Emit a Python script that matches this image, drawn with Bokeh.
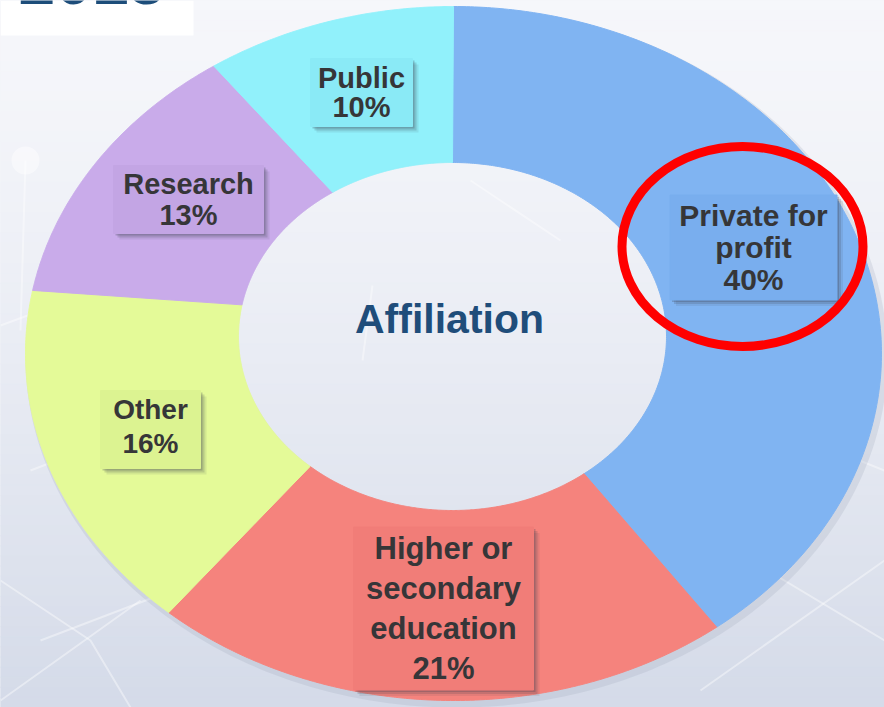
import numpy as np
from bokeh.plotting import figure
from bokeh.models import Range1d
from bokeh.core.properties import value
from bokeh.embed import file_html
from bokeh.resources import INLINE

# ---------------- data ----------------
categories = ["Private for profit", "Higher or secondary education", "Other", "Research", "Public"]
label_names = ["Private for\nprofit", "Higher or\nsecondary\neducation", "Other", "Research", "Public"]
shares = [40, 21, 16, 13, 10]
center_label = "Affiliation"
year_label = "2015"

# ---------------- style ----------------
slice_colors = ["#80b4f2", "#f5837d", "#e4fa98", "#c9abea", "#91f1fb"]
box_colors = ["#79aeee", "#f17d78", "#dcf391", "#c3a5e4", "#8aeaf6"]
box_cx = [753, 443, 150, 188, 361]
box_cy = [247, 608, 429, 199, 92]
box_w = [167, 180, 100, 150, 102]
box_h = [105, 163, 78, 68, 68]
text_dy = [0, 0, -3, 0, 0]
font_sizes = ["30px", "31px", "28px", "29px", "29px"]
line_heights = [0.98, 1.14, 1.1, 0.99, 0.93]

W, H = 884, 707
# outer / inner ellipse of the donut (screen pixels), slight perspective warp
OCX, OCY, ORX, ORY = 453, 353, 428, 347
ICX, ICY, IRX, IRY = 452, 336, 214, 174
WARP = np.radians(3.3)

p = figure(width=W, height=H, output_backend="svg", toolbar_location=None,
           x_range=Range1d(0, W), y_range=Range1d(H, 0),
           x_axis_location=None, y_axis_location=None,
           min_border=0, outline_line_color=None)
p.grid.visible = False
p.background_fill_color = "#e8ebf3"
p.border_fill_color = "#e8ebf3"

# background vertical gradient
n = 70
edges = np.linspace(0, H, n + 1)
top_c = np.array([246, 247, 251])
bot_c = np.array([213, 219, 233])
cols = []
for i in range(n):
    f = (i / (n - 1)) ** 1.4
    c = (top_c * (1 - f) + bot_c * f).astype(int)
    cols.append("#%02x%02x%02x" % tuple(c))
p.quad(left=0, right=W, top=edges[:-1], bottom=edges[1:], fill_color=cols, line_color=cols)

# faint network lines in background
net_x = [[25, 20], [0, 95], [30, 160], [0, 90, 130], [0, 140], [600, 884], [700, 884],
         [760, 884], [40, 250], [372, 362], [470, 560]]
net_y = [[160, 330], [325, 290], [470, 420], [580, 640, 707], [700, 600], [470, 640], [690, 560],
         [420, 470], [640, 560], [285, 360], [180, 240]]
p.multi_line(net_x, net_y, line_color="white", line_alpha=0.4, line_width=2)
p.scatter([25], [160], size=28, fill_color="white", fill_alpha=0.45, line_color=None)

# donut shadow (ring only)
t = np.linspace(0, 2 * np.pi, 400)
p.multi_polygons(xs=[[[list(OCX + 3 + (ORX + 3) * np.sin(t)), list(ICX + IRX * np.sin(t))]]],
                 ys=[[[list(OCY + 4 + (ORY + 3) * np.cos(t)), list(ICY + IRY * np.cos(t))]]],
                 fill_color="#9aa3b8", fill_alpha=0.22, line_color=None)

# donut slices
total = float(sum(shares))
cum = np.concatenate([[0], np.cumsum(shares)]) / total * 2 * np.pi
xs, ys = [], []
for a0, a1 in zip(cum[:-1], cum[1:]):
    phi = np.linspace(a0, a1, 240)
    tt = phi - WARP * np.sin(phi)
    ox = OCX + ORX * np.sin(tt)
    oy = OCY - ORY * np.cos(tt)
    ix = ICX + IRX * np.sin(tt[::-1])
    iy = ICY - IRY * np.cos(tt[::-1])
    xs.append(np.concatenate([ox, ix]))
    ys.append(np.concatenate([oy, iy]))
p.patches(xs, ys, fill_color=slice_colors, line_color=slice_colors, line_width=1)

# label boxes with soft shadows
for k, a in ((6, 0.10), (4, 0.18), (2, 0.25)):
    p.rect(x=[c + k for c in box_cx], y=[c + k for c in box_cy], width=box_w, height=box_h,
           fill_color="#3c4150", fill_alpha=a, line_color=None)
p.rect(x=box_cx, y=box_cy, width=box_w, height=box_h, fill_color=box_colors,
       line_color=box_colors, line_width=1)

for i in range(len(categories)):
    txt = "%s\n%d%%" % (label_names[i], shares[i])
    p.text(x=[box_cx[i]], y=[box_cy[i] + text_dy[i]], text=[txt], text_align="center",
           text_baseline="middle", text_font=value("Liberation Sans"), text_font_style="bold",
           text_font_size=font_sizes[i], text_line_height=line_heights[i], text_color="#363638")

# centre title
p.text(x=[449], y=[318], text=[center_label], text_align="center", text_baseline="middle",
       text_font=value("Liberation Sans"), text_font_style="bold",
       text_font_size="41px", text_color="#1f4d7a")

# year box (cropped at the top, as in the source)
p.quad(left=0, right=193, top=0, bottom=35, fill_color="white", line_color=None)
p.text(x=[18], y=[-20], text=[year_label], text_align="left", text_baseline="alphabetic",
       text_font=value("Liberation Sans"), text_font_style="bold",
       text_font_size="66px", text_color="#1d4d7a")

# red highlight ellipse
p.ellipse(x=[742], y=[246], width=241, height=200, width_units="screen", height_units="screen",
          fill_color=None, line_color="#ff0000", line_width=9)

open("out.html", "w").write(file_html(p, INLINE))
